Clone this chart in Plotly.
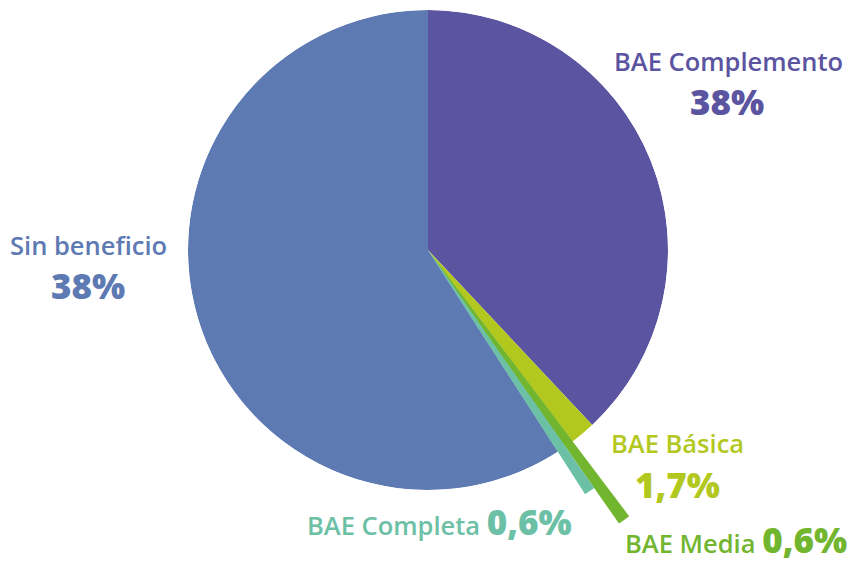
import plotly.graph_objects as go
import numpy as np

# slices, clockwise from 12 o'clock
categorias = ['BAE Complemento', 'BAE Básica', 'BAE Media', 'BAE Completa', 'Sin beneficio']
porcentajes = [38.0, 1.7, 0.6, 0.6, 59.1]
# relative radius of each slice (main pie = 100)
radios = [100, 100, 139, 121, 100]
etiquetas_pct = ['38%', '1,7%', '0,6%', '0,6%', '38%']
colores = ['#5b54a0', '#b3c81e', '#72b52f', '#6cc0a5', '#5e7ab3']

FONT = 'Open Sans'
W, H = 847, 555          # page body has an 8px margin
OFF = 8
CX, CY, R = 428 - OFF, 250 - OFF, 240   # pie centre / radius in px
RMAX = 140

pct = np.array(porcentajes)
anchos = pct / pct.sum() * 360
centros = np.cumsum(anchos) - anchos / 2

fig = go.Figure()

# main pie, every slice at the common radius
fig.add_trace(go.Barpolar(
    r=[min(v, 100) for v in radios], theta=centros, width=anchos,
    marker=dict(color=colores, line=dict(width=0)),
    hoverinfo='skip', showlegend=False, subplot='polar'
))

# long slices in a second polar that only spans their sector
largos = [i for i, v in enumerate(radios) if v > 100]
fig.add_trace(go.Barpolar(
    r=[radios[i] for i in largos], theta=centros[largos], width=anchos[largos],
    marker=dict(color=[colores[i] for i in largos], line=dict(width=0)),
    hoverinfo='skip', showlegend=False, subplot='polar2'
))

# sector of polar2 (layout degrees, counter-clockwise from east)
s0, s1 = -60, -50
bx = np.cos(np.radians(s1))
by = -np.sin(np.radians(s0))
rad2 = R / 100 * RMAX
dom2_x = [CX / W, (CX + bx * rad2) / W]
dom2_y = [1 - (CY + by * rad2) / H, 1 - CY / H]


def label(x, y, text, color, size, weight=600):
    fig.add_annotation(
        x=(x - OFF) / W, y=1 - (y - OFF) / H, xref='paper', yref='paper',
        showarrow=False, text=text,
        font=dict(family=FONT, size=size, color=color, weight=weight),
        xanchor='center', yanchor='middle'
    )


def mixed(name, value):
    return f"{name} <span style='font-size:35px;font-weight:800'>{value}</span>"


NAME = 25.5
label(728, 61, categorias[0], colores[0], NAME)
label(727, 101, etiquetas_pct[0], colores[0], 35, 800)
label(88, 245, categorias[4], colores[4], NAME)
label(88, 285, etiquetas_pct[4], colores[4], 35, 800)
label(677, 443, categorias[1], colores[1], NAME)
label(677, 484, etiquetas_pct[1], colores[1], 35, 800)
label(439, 521, mixed(categorias[3], etiquetas_pct[3]), colores[3], NAME)
label(736, 539, mixed(categorias[2], etiquetas_pct[2]), colores[2], NAME)

hidden_angular = dict(rotation=90, direction='clockwise', visible=False)

fig.update_layout(
    width=W, height=H,
    margin=dict(l=0, r=0, t=0, b=0),
    paper_bgcolor='white',
    polar=dict(
        domain=dict(x=[(CX - R) / W, (CX + R) / W], y=[1 - (CY + R) / H, 1 - (CY - R) / H]),
        bgcolor='rgba(0,0,0,0)', bargap=0,
        radialaxis=dict(range=[0, 100], visible=False),
        angularaxis=hidden_angular
    ),
    polar2=dict(
        domain=dict(x=dom2_x, y=dom2_y),
        sector=[s0, s1],
        bgcolor='rgba(0,0,0,0)', bargap=0,
        radialaxis=dict(range=[0, RMAX], visible=False),
        angularaxis=hidden_angular
    )
)

fig.write_html('out.html')
